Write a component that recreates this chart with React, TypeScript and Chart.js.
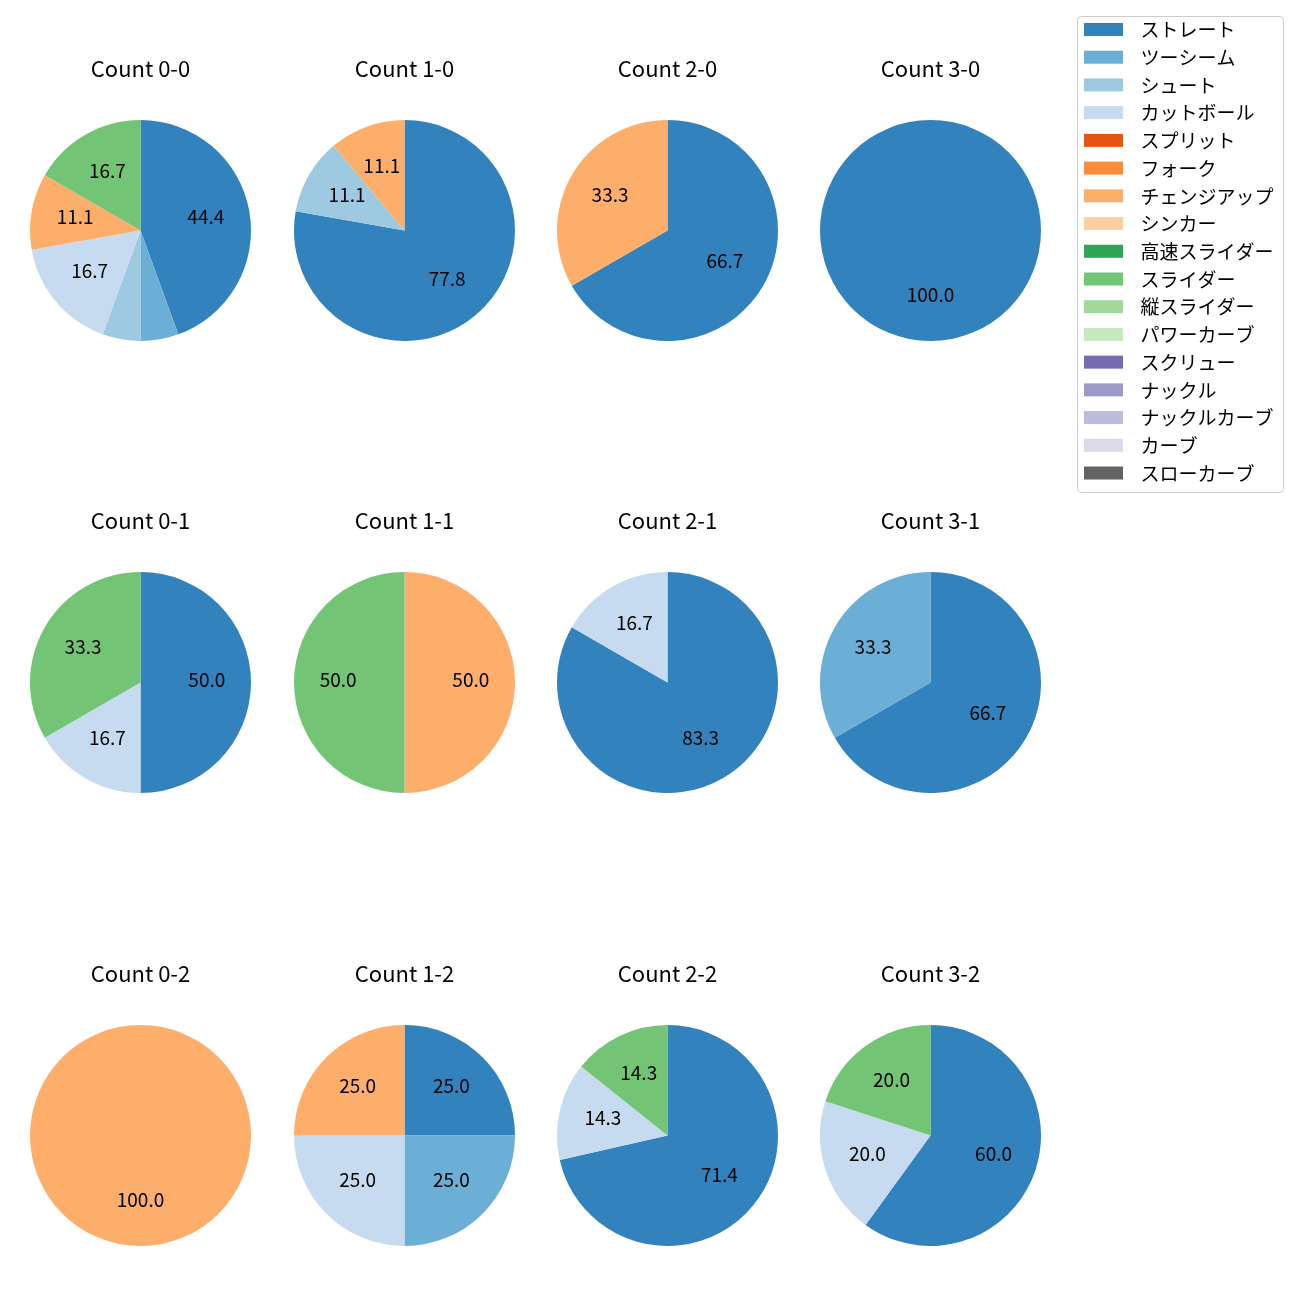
import React, { useEffect, useRef } from "react";
import { Chart, registerables } from "chart.js";

Chart.register(...registerables);

const FONT = "'Noto Sans CJK JP', 'Noto Sans', sans-serif";

const pitchTypes = [
  "ストレート", "ツーシーム", "シュート", "カットボール", "スプリット", "フォーク",
  "チェンジアップ", "シンカー", "高速スライダー", "スライダー", "縦スライダー",
  "パワーカーブ", "スクリュー", "ナックル", "ナックルカーブ", "カーブ", "スローカーブ",
];

const pitchColors = [
  "#3182bd", "#6baed6", "#9ecae1", "#c6dbef", "#e6550d", "#fd8d3c",
  "#fdae6b", "#fdd0a2", "#31a354", "#74c476", "#a1d99b", "#c7e9c0",
  "#756bb1", "#9e9ac8", "#bcbddc", "#dadaeb", "#636363",
];

// pitch counts per ball-strike count, in pitchTypes order
const count00 = [8, 1, 1, 3, 0, 0, 2, 0, 0, 3, 0, 0, 0, 0, 0, 0, 0];
const count10 = [7, 0, 1, 0, 0, 0, 1, 0, 0, 0, 0, 0, 0, 0, 0, 0, 0];
const count20 = [2, 0, 0, 0, 0, 0, 1, 0, 0, 0, 0, 0, 0, 0, 0, 0, 0];
const count30 = [1, 0, 0, 0, 0, 0, 0, 0, 0, 0, 0, 0, 0, 0, 0, 0, 0];
const count01 = [3, 0, 0, 1, 0, 0, 0, 0, 0, 2, 0, 0, 0, 0, 0, 0, 0];
const count11 = [0, 0, 0, 0, 0, 0, 1, 0, 0, 1, 0, 0, 0, 0, 0, 0, 0];
const count21 = [5, 0, 0, 1, 0, 0, 0, 0, 0, 0, 0, 0, 0, 0, 0, 0, 0];
const count31 = [2, 1, 0, 0, 0, 0, 0, 0, 0, 0, 0, 0, 0, 0, 0, 0, 0];
const count02 = [0, 0, 0, 0, 0, 0, 1, 0, 0, 0, 0, 0, 0, 0, 0, 0, 0];
const count12 = [1, 1, 0, 1, 0, 0, 1, 0, 0, 0, 0, 0, 0, 0, 0, 0, 0];
const count22 = [5, 0, 0, 1, 0, 0, 0, 0, 0, 1, 0, 0, 0, 0, 0, 0, 0];
const count32 = [3, 0, 0, 1, 0, 0, 0, 0, 0, 1, 0, 0, 0, 0, 0, 0, 0];

const panelTitles = [
  ["Count 0-0", "Count 1-0", "Count 2-0", "Count 3-0"],
  ["Count 0-1", "Count 1-1", "Count 2-1", "Count 3-1"],
  ["Count 0-2", "Count 1-2", "Count 2-2", "Count 3-2"],
];
const panelData = [
  [count00, count10, count20, count30],
  [count01, count11, count21, count31],
  [count02, count12, count22, count32],
];

const labelThreshold = 10; // percentages below this are not labelled

// layout
const colCenters = [140.5, 404.5, 667.5, 930.5];
const rowCenters = [230, 682.5, 1135.5];
const RADIUS = 110.5;
const TITLE_SIZE = 22;
const LABEL_SIZE = 19;
const LEGEND_SIZE = 19;

const pctLabelPlugin = {
  id: "pctLabels",
  afterDatasetsDraw(chart: any) {
    const ctx = chart.ctx;
    const ds = chart.data.datasets[0];
    const vals: number[] = ds.data;
    const total = vals.reduce((a, b) => a + b, 0);
    const meta = chart.getDatasetMeta(0);
    ctx.save();
    ctx.font = `${LABEL_SIZE}px ${FONT}`;
    ctx.fillStyle = "#000";
    ctx.textAlign = "center";
    ctx.textBaseline = "middle";
    meta.data.forEach((arc: any, i: number) => {
      const v = vals[i];
      if (!v) return;
      const pct = (v / total) * 100;
      if (pct < labelThreshold) return;
      const p = arc.getProps(["x", "y", "startAngle", "endAngle", "outerRadius"], true);
      const mid = (p.startAngle + p.endAngle) / 2;
      const r = p.outerRadius * 0.6;
      ctx.fillText(pct.toFixed(1), p.x + Math.cos(mid) * r, p.y + Math.sin(mid) * r - 2.5);
    });
    ctx.restore();
  },
};

function PiePanel({ title, values, cx, cy }: { title: string; values: number[]; cx: number; cy: number }) {
  const ref = useRef<HTMLCanvasElement>(null);
  const W = 2 * RADIUS + 40;
  const H = 2 * RADIUS + 80;
  useEffect(() => {
    if (!ref.current) return;
    const lineH = TITLE_SIZE * 1.2;
    const top = 28.5 - lineH / 2 + 0.5;
    const chart = new Chart(ref.current, {
      type: "pie",
      data: {
        labels: pitchTypes,
        datasets: [{ data: values, backgroundColor: pitchColors, borderWidth: 0 }],
      },
      options: {
        animation: false,
        responsive: false,
        events: [],
        layout: { padding: { left: 20, right: 20, top: 0, bottom: 0 } },
        plugins: {
          legend: { display: false },
          tooltip: { enabled: false },
          title: {
            display: true,
            text: title,
            color: "#000",
            font: { family: FONT, size: TITLE_SIZE, weight: "normal", lineHeight: 1.2 },
            padding: { top: top, bottom: 80 - top - lineH },
          },
        },
      },
      plugins: [pctLabelPlugin],
    });
    return () => chart.destroy();
  }, [title, values]);
  return (
    <canvas
      ref={ref}
      width={W}
      height={H}
      style={{ position: "absolute", left: cx - W / 2, top: cy - RADIUS - 80, width: W, height: H }}
    />
  );
}

const legendPlugin = {
  id: "boxLegend",
  afterDraw(chart: any) {
    const ctx = chart.ctx;
    const labels: string[] = chart.data.labels;
    const colors: string[] = chart.data.datasets[0].backgroundColor;
    ctx.save();
    // frame
    ctx.beginPath();
    ctx.roundRect(7.5, 6.5, 206, 476, 4);
    ctx.fillStyle = "rgba(255,255,255,0.8)";
    ctx.fill();
    ctx.strokeStyle = "#cccccc";
    ctx.lineWidth = 1;
    ctx.stroke();
    ctx.font = `${LEGEND_SIZE}px ${FONT}`;
    ctx.textBaseline = "middle";
    ctx.textAlign = "left";
    labels.forEach((lab, i) => {
      const yc = 19.5 + i * 27.72;
      ctx.fillStyle = colors[i];
      ctx.fillRect(14, yc - 6.5, 39, 13);
      ctx.fillStyle = "#000";
      ctx.fillText(lab, 70.5, yc + 0.5);
    });
    ctx.restore();
  },
};

function LegendPanel() {
  const ref = useRef<HTMLCanvasElement>(null);
  useEffect(() => {
    if (!ref.current) return;
    const chart = new Chart(ref.current, {
      type: "pie",
      data: {
        labels: pitchTypes,
        datasets: [{ data: pitchTypes.map(() => 0), backgroundColor: pitchColors, borderWidth: 0 }],
      },
      options: {
        animation: false,
        responsive: false,
        events: [],
        plugins: { legend: { display: false }, tooltip: { enabled: false } },
      },
      plugins: [legendPlugin],
    });
    return () => chart.destroy();
  }, []);
  return (
    <canvas
      ref={ref}
      width={220}
      height={490}
      style={{ position: "absolute", left: 1070, top: 10, width: 220, height: 490 }}
    />
  );
}

export default function App() {
  return (
    <div style={{ position: "absolute", left: 0, top: 0, width: 1300, height: 1300, background: "#fff" }}>
      {panelTitles.map((row, r) =>
        row.map((t, c) => (
          <PiePanel key={t} title={t} values={panelData[r][c]} cx={colCenters[c]} cy={rowCenters[r]} />
        ))
      )}
      <LegendPanel />
    </div>
  );
}
